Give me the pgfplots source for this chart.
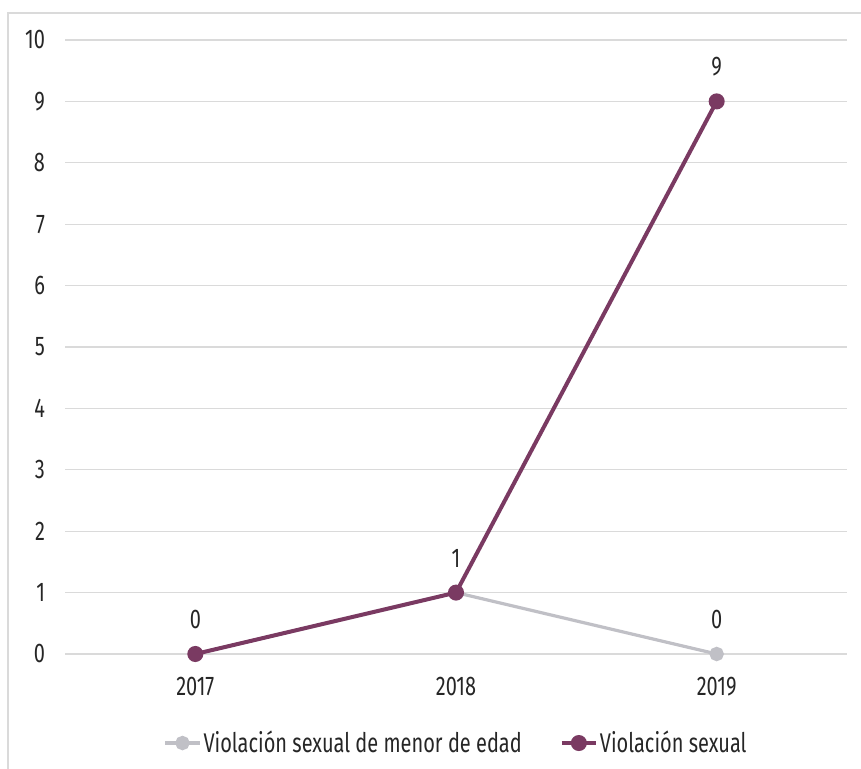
\documentclass[border=0pt]{standalone}
\usepackage{pgfplots}
\pgfplotsset{compat=1.18}
\usepackage{fontspec}
\setmainfont[FakeStretch=0.74]{Fira Sans}
\definecolor{vpurple}{RGB}{122,58,98}
\definecolor{vgray}{RGB}{192,192,198}
\definecolor{gridc}{RGB}{218,218,218}
\newcommand{\lblfont}{\fontsize{13.5}{15}\selectfont}
\begin{document}
\begin{tikzpicture}
\path[use as bounding box] (0,0) rectangle (430.5pt,384.5pt);
\draw[gridc, line width=0.6pt] (4pt,0) -- (4pt,378pt) -- (430.5pt,378pt);
\begin{axis}[
  at={(32.5pt,57.5pt)}, anchor=south west,
  scale only axis, width=391pt, height=307pt,
  xmin=-0.5, xmax=2.5, ymin=0, ymax=10,
  xtick={0,1,2}, xticklabels={2017,2018,2019},
  ytick={0,1,...,10},
  axis line style={draw=none},
  ymajorgrids, grid style={gridc, line width=0.6pt},
  major tick length=0pt,
  tick label style={font=\lblfont, text=black!85},
  /pgf/number format/assume math mode=true,
  yticklabel style={xshift=-6.5pt},
  xticklabel style={yshift=-8pt},
  clip=false,
  legend style={at={(0.5,-0.145)}, anchor=center, draw=none, fill=none,
    font=\lblfont, text=black!85, legend columns=2,
    /tikz/every odd column/.append style={column sep=0pt},
    /tikz/every even column/.append style={column sep=18pt},
    nodes={inner xsep=1pt}},
  legend image code/.code={
    \draw[#1, line width=2pt] (0cm,0cm) -- (0.6cm,0cm);
    \draw[#1, mark repeat=2, mark phase=2] plot coordinates {(0cm,0cm) (0.3cm,0cm) (0.6cm,0cm)};
  },
]
\addplot[vgray, line width=1.6pt, mark=*, mark size=2.8pt, mark options={fill=vgray, draw=vgray}]
  coordinates {(0,0) (1,1) (2,0)};
\addlegendentry{Violación sexual de menor de edad}
\addplot[vpurple, line width=2pt, mark=*, mark size=3pt, mark options={fill=vpurple, draw=vpurple}]
  coordinates {(0,0) (1,1) (2,9)};
\addlegendentry{Violación sexual}
\node[font=\lblfont, text=black!85, anchor=south] at (axis cs:0,0.3) {0};
\node[font=\lblfont, text=black!85, anchor=south] at (axis cs:1,1.3) {1};
\node[font=\lblfont, text=black!85, anchor=south] at (axis cs:2,0.3) {0};
\node[font=\lblfont, text=black!85, anchor=south] at (axis cs:2,9.3) {9};
\end{axis}
\end{tikzpicture}
\end{document}
